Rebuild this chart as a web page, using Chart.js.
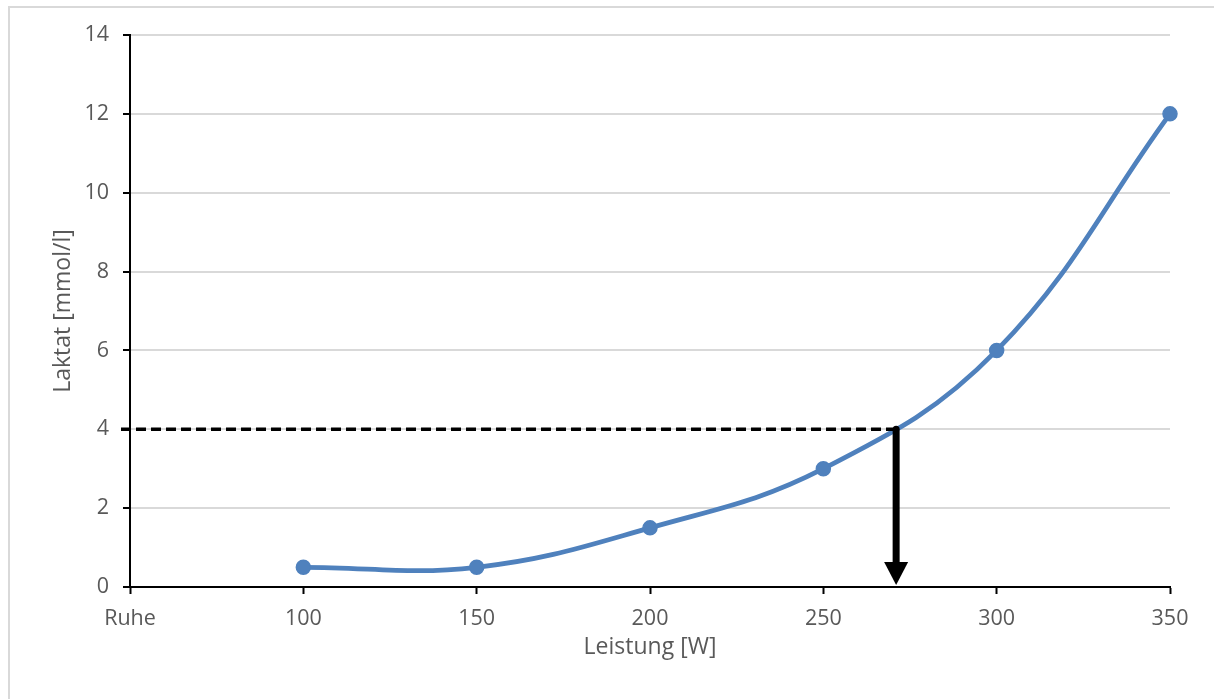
<!DOCTYPE html>
<html>
<head>
<meta charset="utf-8">
<script src="https://cdn.jsdelivr.net/npm/chart.js@4/dist/chart.umd.min.js"></script>
<style>
  html, body { margin: 0; padding: 0; background: #fff; }
  #wrap { position: relative; width: 1214px; height: 699px; }
</style>
</head>
<body>
<div id="wrap"><canvas id="c" width="1214" height="699"></canvas></div>
<script>
// Leistungsstufen [W] and measured lactate [mmol/l]
const leistung = [100, 150, 200, 250, 300, 350];
const laktat = [0.5, 0.5, 1.5, 3, 6, 12];

// x axis starts at rest ("Ruhe"), then 50 W steps
const restValue = 50;
const restLabel = 'Ruhe';
const xMax = 350;
const yMax = 14;

const schwelleLaktat = 4;
const schwelleLeistung = 271;

const textColor = '#595959';
const fontFamily = "'Open Sans', 'Noto Sans', sans-serif";

// light frame along the top and left edge
const framePlugin = {
  id: 'frame',
  beforeDraw(chart) {
    const ctx = chart.ctx;
    ctx.save();
    ctx.strokeStyle = '#d9d9d9';
    ctx.lineWidth = 2;
    ctx.beginPath();
    ctx.moveTo(9, chart.height);
    ctx.lineTo(9, 7);
    ctx.lineTo(chart.width, 7);
    ctx.stroke();
    ctx.restore();
  }
};

// dashed guide at the threshold and the arrow down to the power axis
const thresholdPlugin = {
  id: 'threshold',
  afterDatasetsDraw(chart) {
    const {ctx, scales: {x, y}} = chart;
    const px = x.getPixelForValue(schwelleLeistung);
    const py = y.getPixelForValue(schwelleLaktat);
    const yAxisPx = x.getPixelForValue(restValue);
    const baseY = y.getPixelForValue(0);
    ctx.save();
    ctx.strokeStyle = '#000';
    ctx.lineWidth = 3.5;
    ctx.setLineDash([10, 5]);
    ctx.beginPath();
    ctx.moveTo(yAxisPx - 9, py);
    ctx.lineTo(px, py);
    ctx.stroke();

    ctx.setLineDash([]);
    ctx.lineWidth = 7;
    ctx.lineCap = 'round';
    const headH = 23;
    const headTip = baseY - 2;
    ctx.beginPath();
    ctx.moveTo(px, py);
    ctx.lineTo(px, headTip - headH + 2);
    ctx.stroke();
    ctx.fillStyle = '#000';
    ctx.beginPath();
    ctx.moveTo(px - 12, headTip - headH);
    ctx.lineTo(px + 12, headTip - headH);
    ctx.lineTo(px, headTip);
    ctx.closePath();
    ctx.fill();
    ctx.restore();
  }
};

new Chart(document.getElementById('c'), {
  type: 'line',
  data: {
    datasets: [{
      data: leistung.map((w, i) => ({x: w, y: laktat[i]})),
      borderColor: '#4F81BD',
      backgroundColor: '#4F81BD',
      borderWidth: 4.75,
      pointRadius: 7,
      pointHoverRadius: 7,
      pointBorderWidth: 1.5,
      pointBorderColor: '#4F81BD',
      tension: 0.4,
      clip: false,
      fill: false
    }]
  },
  options: {
    responsive: false,
    animation: false,
    devicePixelRatio: 1,
    layout: { padding: { left: 50, right: 44, top: 35, bottom: 38 } },
    plugins: { legend: { display: false }, tooltip: { enabled: false } },
    scales: {
      x: {
        type: 'linear',
        min: restValue,
        max: xMax,
        ticks: {
          stepSize: 50,
          color: textColor,
          font: { family: fontFamily, size: 21.5 },
          padding: 12,
          maxRotation: 0,
          callback: v => v === restValue ? restLabel : String(v)
        },
        grid: { drawOnChartArea: false, drawTicks: true, tickLength: 7, tickColor: '#000', tickWidth: 2 },
        border: { color: '#000', width: 2 },
        title: {
          display: true,
          text: 'Leistung [W]',
          color: textColor,
          font: { family: fontFamily, size: 23 },
          padding: 0
        },
        afterFit(scale) { scale.height = 74; }
      },
      y: {
        min: 0,
        max: yMax,
        ticks: {
          stepSize: 2,
          color: textColor,
          font: { family: fontFamily, size: 21.5 },
          padding: 14
        },
        grid: { color: '#d9d9d9', lineWidth: 2, tickLength: 7, tickColor: '#000', tickWidth: 2 },
        border: { color: '#000', width: 2 },
        title: {
          display: true,
          text: 'Laktat [mmol/l]',
          color: textColor,
          font: { family: fontFamily, size: 23 },
          padding: 0
        },
        afterFit(scale) { scale.width = 80; }
      }
    }
  },
  plugins: [framePlugin, thresholdPlugin]
});
</script>
</body>
</html>
